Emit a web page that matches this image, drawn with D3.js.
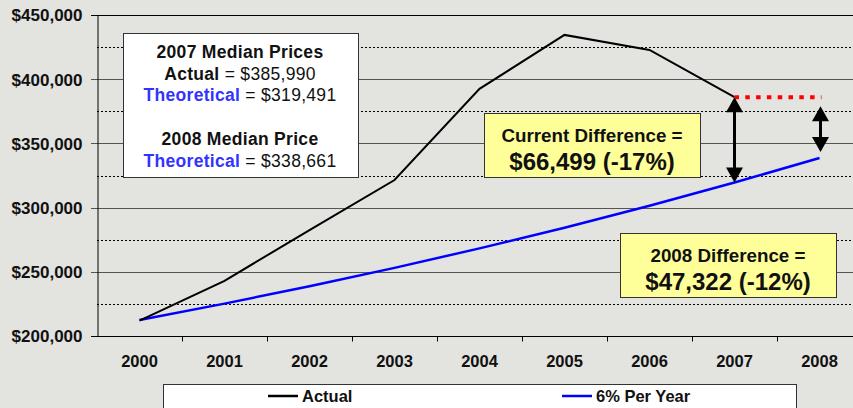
<!DOCTYPE html>
<html>
<head>
<meta charset="utf-8">
<script src="https://cdn.jsdelivr.net/npm/d3@7/dist/d3.min.js"></script>
<style>
  body { margin:0; background:#e3e3df; }
  svg { display:block; font-family: Arial, "Liberation Sans", sans-serif; }
</style>
</head>
<body>
<svg id="chart" width="853" height="408"></svg>
<script>
  // data
  var years       = ["2000","2001","2002","2003","2004","2005","2006","2007","2008"];
  var actual      = [212000, 243000, 282500, 321500, 392500, 434500, 422800, 385990];
  var theoretical = [212481, 225230, 238744, 253069, 268253, 284348, 301409, 319491, 338661];
  var yTicks      = [200000, 250000, 300000, 350000, 400000, 450000];
  var yMinor      = [225000, 275000, 325000, 375000, 425000];
  var seriesNames = ["Actual", "6% Per Year"];

  var chart = d3.select("#chart");
  var margin = {top: 15, left: 97, bottom: 336, right: 862};

  var x = d3.scaleBand().domain(years).range([margin.left, margin.right]);
  var y = d3.scaleLinear().domain([200000, 450000]).range([margin.bottom, margin.top]);
  var cx = function(d) { return x(d) + x.bandwidth() / 2; };

  chart.append("rect").attr("width", 853).attr("height", 408).style("fill", "#e3e3df");

  // minor (dotted) grid
  chart.append("g").selectAll("line").data(yMinor).enter().append("line")
       .attr("x1", margin.left).attr("x2", margin.right)
       .attr("y1", function(d){ return Math.round(y(d)) + 0.5; })
       .attr("y2", function(d){ return Math.round(y(d)) + 0.5; })
       .style("stroke", "#000").style("stroke-width", 1).style("stroke-dasharray", "2,2");

  // major grid
  chart.append("g").selectAll("line").data(yTicks).enter().append("line")
       .attr("x1", margin.left - 6).attr("x2", margin.right)
       .attr("y1", function(d){ return Math.round(y(d)) + 0.5; })
       .attr("y2", function(d){ return Math.round(y(d)) + 0.5; })
       .style("stroke", function(d){ return (d == 450000 || d == 200000) ? "#000" : "#555"; })
       .style("stroke-width", 1);

  // y axis
  var yAxis = d3.axisLeft(y).tickValues(yTicks).tickSize(0).tickPadding(15)
                .tickFormat(function(d){ return "$" + d3.format(",")(d); });
  var gy = chart.append("g").attr("transform", "translate(" + (margin.left + 0.5) + ",0.5)").call(yAxis);
  gy.select(".domain").style("stroke", "#000");
  gy.selectAll("text").style("font-size", "17px").style("font-weight", "bold").style("fill", "#111");

  // x axis
  var xAxis = d3.axisBottom(x).tickSize(0).tickPadding(19);
  var gx = chart.append("g").attr("transform", "translate(0," + (margin.bottom + 0.5) + ")").call(xAxis);
  gx.select(".domain").remove();
  gx.selectAll("text").style("font-size", "16.5px").style("font-weight", "bold").style("fill", "#111");
  gx.selectAll(".sep").data(years.slice(1)).enter().append("line").attr("class", "sep")
    .attr("x1", function(d){ return Math.round(x(d)) + 0.5; })
    .attr("x2", function(d){ return Math.round(x(d)) + 0.5; })
    .attr("y1", 0).attr("y2", 5).style("stroke", "#000");

  // lines
  var line = d3.line().x(function(d, i){ return cx(years[i]); }).y(function(d){ return y(d); });
  chart.append("path").datum(theoretical).attr("d", line)
       .style("fill", "none").style("stroke", "#0000ff").style("stroke-width", 2.5);
  chart.append("path").datum(actual).attr("d", line)
       .style("fill", "none").style("stroke", "#000").style("stroke-width", 2);

  // red dotted reference at 2007 actual level
  chart.append("line")
       .attr("x1", cx("2007")).attr("x2", cx("2008") + 2)
       .attr("y1", y(actual[7])).attr("y2", y(actual[7]))
       .style("stroke", "#ff0000").style("stroke-width", 4).style("stroke-dasharray", "4.5,6.3");

  // double headed arrows
  function arrow(xp, y1, y2) {
    var g = chart.append("g");
    var hw = 8.5, hl = 15;
    g.append("line").attr("x1", xp).attr("x2", xp).attr("y1", y1 + hl - 1).attr("y2", y2 - hl + 1)
     .style("stroke", "#000").style("stroke-width", 3);
    g.append("path").attr("d", "M" + xp + "," + y1 + "L" + (xp - hw) + "," + (y1 + hl) + "L" + (xp + hw) + "," + (y1 + hl) + "Z")
     .style("fill", "#000");
    g.append("path").attr("d", "M" + xp + "," + y2 + "L" + (xp - hw) + "," + (y2 - hl) + "L" + (xp + hw) + "," + (y2 - hl) + "Z")
     .style("fill", "#000");
  }
  arrow(cx("2007"), y(actual[7]), y(theoretical[7]));
  arrow(cx("2008") + 1, y(actual[7]) + 9, y(theoretical[8]) - 6);

  // info box
  chart.append("rect").attr("x", 123.5).attr("y", 33.5).attr("width", 235).attr("height", 144)
       .style("fill", "#fff").style("stroke", "#333").style("stroke-width", 1);
  var info = chart.append("g").style("font-size", "17.5px").style("letter-spacing", "0.3px")
                  .style("text-anchor", "middle").style("fill", "#111");
  info.append("text").attr("x", 240).attr("y", 57.5).style("font-weight", "bold").text("2007 Median Prices");
  var t1 = info.append("text").attr("x", 240).attr("y", 79.5);
  t1.append("tspan").style("font-weight", "bold").text("Actual");
  t1.append("tspan").text(" = $385,990");
  var t2 = info.append("text").attr("x", 240).attr("y", 100.5);
  t2.append("tspan").style("font-weight", "bold").style("fill", "#3333ff").text("Theoretical");
  t2.append("tspan").text(" = $319,491");
  info.append("text").attr("x", 240).attr("y", 145).style("font-weight", "bold").text("2008 Median Price");
  var t3 = info.append("text").attr("x", 240).attr("y", 166.5);
  t3.append("tspan").style("font-weight", "bold").style("fill", "#3333ff").text("Theoretical");
  t3.append("tspan").text(" = $338,661");

  // yellow callouts
  function callout(bx, by, l1, l2) {
    chart.append("rect").attr("x", bx + 0.5).attr("y", by + 0.5).attr("width", 216).attr("height", 64)
         .style("fill", "#ffff99").style("stroke", "#333").style("stroke-width", 1);
    chart.append("text").attr("x", bx + 108).attr("y", by + 29).style("text-anchor", "middle")
         .style("font-size", "18.8px").style("font-weight", "bold").style("fill", "#111").text(l1);
    chart.append("text").attr("x", bx + 108).attr("y", by + 57).style("text-anchor", "middle")
         .style("font-size", "24px").style("font-weight", "bold").style("fill", "#111").text(l2);
  }
  callout(484, 113, "Current Difference =", "$66,499 (-17%)");
  callout(620, 233, "2008 Difference =", "$47,322 (-12%)");

  // legend
  chart.append("rect").attr("x", 163.5).attr("y", 384.5).attr("width", 633).attr("height", 40)
       .style("fill", "#fff").style("stroke", "#333").style("stroke-width", 1);
  var legColors = ["#000", "#0000ff"];
  var legX = [268, 562];
  seriesNames.forEach(function(n, i) {
    chart.append("line").attr("x1", legX[i]).attr("x2", legX[i] + 30).attr("y1", 396).attr("y2", 396)
         .style("stroke", legColors[i]).style("stroke-width", 2.5);
    chart.append("text").attr("x", legX[i] + 34).attr("y", 402).style("font-size", "16.5px")
         .style("font-weight", "bold").style("fill", "#111").text(n);
  });
</script>
</body>
</html>
